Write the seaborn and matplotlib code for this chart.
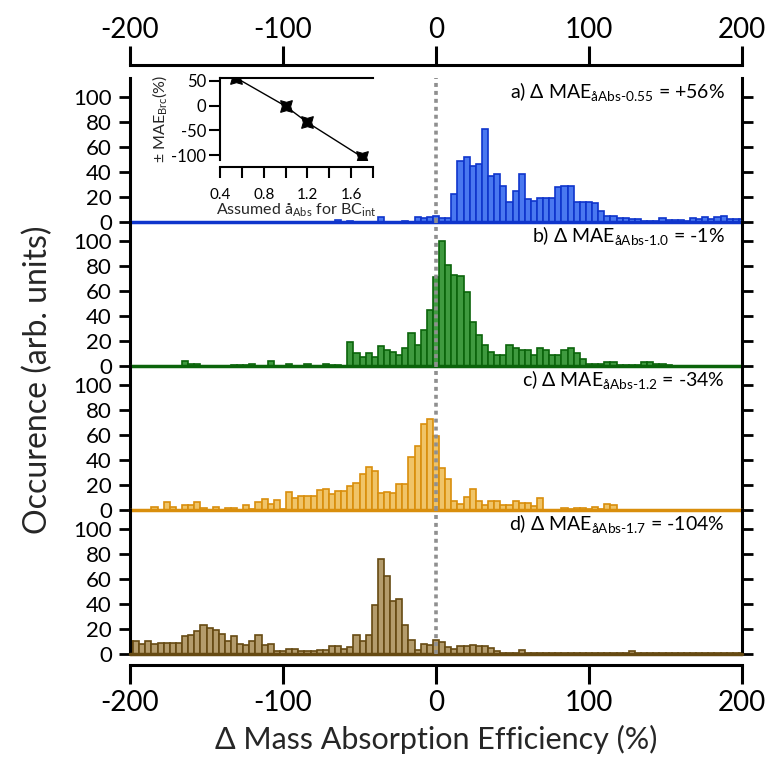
import numpy as np
import pandas as pd
import matplotlib
matplotlib.use("Agg")
import matplotlib.pyplot as plt
import seaborn as sns
from matplotlib.ticker import MultipleLocator

sns.set_theme(style="white")
plt.rcParams['font.family'] = ['Lato', 'DejaVu Sans']
plt.rcParams['mathtext.fontset'] = 'dejavusans'
plt.rcParams['axes.unicode_minus'] = False

# ---------------- data (4 %-wide bins centred on -200, -196, ..., 200) ----------------
bin_centers = np.arange(-200, 201, 4)

blue_neg = [0, 0, 0, 0, 0, 0, 0, 0, 0, 0,
            0, 0, 0, 0, 0, 0, 0, 0, 0, 0,
            0, 0, 0, 0, 0, 0, 0, 0, 0, 0,
            0, 0, 0, 0, 1.5, 0, 1, 0, 0, 0,
            0, 4, 0, 0, 0, 1, 0, 4, 3, 4]
blue_pos = [4.5, 3.5, 3, 22, 49, 52, 45, 46, 74, 37,
            38, 29, 16, 25, 38, 18, 17, 19, 19, 19,
            28, 29, 29, 16, 16, 16, 15, 8.5, 5, 5,
            3, 3, 2, 2, 1, 1, 1, 3.5, 1.5, 1.5,
            1.5, 1, 3, 2, 4, 2, 4, 5, 2, 2,
            2]

green_neg = [0, 0, 0, 0, 0, 0, 0, 0, 0, 4,
             2, 2, 0, 0, 0, 0, 0, 1, 1, 1,
             2, 0, 0, 4, 0, 0, 2, 0, 0, 2,
             0, 0, 2, 1, 1, 0, 19.5, 10, 7, 10,
             7.5, 16, 13, 11, 9, 14, 26, 16.5, 28.5, 44.5]
green_pos = [71, 100, 81, 72.5, 72, 59, 35, 25, 16.5, 11,
             9, 8.5, 17, 14.5, 12.5, 12.5, 9, 14, 13, 8.5,
             9, 12.5, 14, 10, 6, 2, 2, 2, 3, 3,
             1, 0.5, 0.5, 0.5, 3, 3, 2, 2, 1, 0,
             0, 0, 0, 0, 0, 0, 0, 0, 0, 0,
             0]

orange_neg = [0, 0, 0, 0, 2.4, 0, 6.7, 2.4, 0, 3.7,
              3.7, 6.7, 1.3, 0, 2.4, 0, 1.3, 1.3, 0, 3.7,
              1, 6.7, 8.5, 5, 7.7, 1, 14.7, 9.9, 11.5, 11.5,
              11.5, 15.7, 16.8, 13, 15.5, 15.5, 19.5, 21.6, 29, 34.5,
              31, 14, 14.7, 13.5, 20.5, 21, 42, 51, 69, 73]
orange_pos = [59, 33.6, 24.8, 7, 4.8, 10.7, 16.5, 7, 4.3, 7,
              7.5, 4.3, 4.3, 7, 5.3, 5.3, 3.5, 9.6, 0, 0,
              0, 1.9, 0.5, 1.3, 1.3, 0.5, 2.7, 1, 5, 4,
              0, 0, 0, 0, 0, 0, 0, 0, 0, 0,
              0, 0, 0, 0, 0, 0, 0, 0, 0, 0,
              0]

brown_neg = [10, 10, 8, 10, 8, 9, 9, 9, 9, 14,
             15.5, 18, 23.5, 21, 19.5, 16, 10.7, 14, 8, 7,
             10.7, 15, 7.5, 8, 2.7, 2.7, 4.3, 4.3, 2.7, 2.7,
             2, 3.5, 3.5, 6, 6, 4.3, 5.3, 15.5, 10, 15.5,
             39.5, 75.5, 62, 42.7, 44, 23.5, 11.5, 3.5, 8, 7]
brown_pos = [11.5, 9.6, 5.3, 4.3, 6, 6, 7, 6.5, 6, 5,
             2, 1, 1, 1, 3.5, 0.5, 0.5, 0.5, 0.5, 0.5,
             0.5, 0.5, 0.5, 0.5, 0.5, 0.5, 0.5, 0.5, 1, 1,
             0.5, 0.5, 2, 0.5, 0.5, 0.5, 0.5, 0.5, 0.5, 0.5,
             0.5, 0.5, 0.5, 0.5, 0.5, 0.5, 0.5, 0.5, 0.5, 0.5,
             0.5]

HY = "\u2010"
panel_labels = [r"a) Δ MAE$_{\mathregular{åAbs" + HY + r"0.55}}$ = +56%",
                r"b) Δ MAE$_{\mathregular{åAbs" + HY + r"1.0}}$ = -1%",
                r"c) Δ MAE$_{\mathregular{åAbs" + HY + r"1.2}}$ = -34%",
                r"d) Δ MAE$_{\mathregular{åAbs" + HY + r"1.7}}$ = -104%"]

xticks = [-200, -100, 0, 100, 200]
yticks = [0, 20, 40, 60, 80, 100]

inset_abs = [0.55, 1.0, 1.2, 1.7]
inset_dmae = [56, -1, -34, -104]

# ---------------- figure ----------------
fig = plt.figure(figsize=(7.73, 7.6), dpi=100)

L = 130 / 773
W = 612 / 773
H = 0.1895
bottoms = [0.7079, 0.5184, 0.3289, 0.1395]

series = [(blue_neg + blue_pos, '#4a78f0', '#0f35cc'),
          (green_neg + green_pos, '#3f9a3f', '#0b640b'),
          (orange_neg + orange_pos, '#f0c468', '#d98e0c'),
          (brown_neg + brown_pos, '#b49c6c', '#664a12')]

axes = []
for i, ((counts, fill, edge), b) in enumerate(zip(series, bottoms)):
    ax = fig.add_axes([L, b, W, H])
    ax.set_facecolor('none')
    df = pd.DataFrame({'x': bin_centers, 'w': counts})
    sns.histplot(data=df, x='x', weights='w', binwidth=4, binrange=(-202, 202), ax=ax,
                 color=fill, edgecolor=edge, linewidth=1.2, alpha=1, zorder=2)
    ax.axhline(0, color=edge, lw=2.5, zorder=3, clip_on=False)
    ax.axvline(0, color='#8f8f8f', lw=2.6, ls=(0, (1.1, 1.1)), zorder=4)
    ax.set_xlim(-200, 200)
    ax.set_ylim(0, 115)
    ax.set_xlabel('')
    ax.set_ylabel('')
    ax.set_yticks(yticks)
    ax.set_xticks(xticks)
    for s in ['left', 'right']:
        ax.spines[s].set_visible(True)
        ax.spines[s].set_color('black')
        ax.spines[s].set_linewidth(2.2)
    ax.spines['top'].set_visible(False)
    ax.spines['bottom'].set_visible(False)
    ax.tick_params(axis='y', which='both', left=True, right=True, labelleft=True,
                   labelright=False, direction='out', length=8, width=2.0,
                   labelsize=16, pad=5, colors='black')
    ax.tick_params(axis='x', bottom=False, top=False, labelbottom=False, labeltop=False)
    ax.text(0.972, 0.9, panel_labels[i], transform=ax.transAxes, ha='right', va='center',
            fontsize=14, color='black')
    ax.grid(False)
    axes.append(ax)

# top axis on panel a
axa = axes[0]
axa.spines['top'].set_visible(True)
axa.spines['top'].set_linewidth(2.2)
axa.spines['top'].set_color('black')
axa.spines['top'].set_position(('outward', 9.5))
axa.tick_params(axis='x', top=True, labeltop=True, bottom=False, labelbottom=False,
                direction='out', length=14, width=2.2, labelsize=20, pad=2, colors='black')

# bottom axis on panel d
axd = axes[3]
axd.spines['bottom'].set_visible(True)
axd.spines['bottom'].set_linewidth(2.2)
axd.spines['bottom'].set_color('black')
axd.spines['bottom'].set_position(('outward', 8))
axd.tick_params(axis='x', bottom=True, labelbottom=True, top=False, labeltop=False,
                direction='out', length=14, width=2.2, labelsize=20, pad=4, colors='black')
axd.set_xlabel('Δ Mass Absorption Efficiency (%)', fontsize=22, labelpad=6)

fig.text(38 / 773, 1 - 380 / 760, 'Occurence (arb. units)', rotation=90,
         ha='center', va='center', fontsize=23)

# ---------------- inset ----------------
axi = fig.add_axes([220 / 773, 1 - 160 / 760, 153 / 773, 82 / 760])
axi.set_facecolor('none')
sns.lineplot(x=inset_abs, y=inset_dmae, ax=axi, color='black', lw=1.0,
             marker=(4, 1, 45), markersize=12, markerfacecolor='black',
             markeredgecolor='black')
axi.set_xlim(0.4, 1.8)
axi.set_ylim(-110, 56)
axi.set_yticks([-100, -50, 0, 50])
axi.xaxis.set_major_locator(MultipleLocator(0.4))
axi.xaxis.set_minor_locator(MultipleLocator(0.2))
axi.set_xticks([0.4, 0.8, 1.2, 1.6])
for s in ['left', 'top', 'bottom']:
    axi.spines[s].set_visible(True)
    axi.spines[s].set_color('black')
    axi.spines[s].set_linewidth(1.5)
axi.spines['right'].set_visible(False)
axi.spines['bottom'].set_position(('outward', 5))
axi.tick_params(axis='both', which='both', direction='out', length=8, width=1.5,
                labelsize=12, colors='black', top=False, right=False,
                bottom=True, left=True)
axi.tick_params(axis='x', which='both', labelsize=11, pad=7)
axi.tick_params(axis='y', which='both', pad=2)
axi.set_xlabel(r"Assumed å$_{\mathregular{Abs}}$ for BC$_{\mathregular{int}}$",
               fontsize=11.5, labelpad=0)
axi.set_ylabel(r"± MAE$_{\mathregular{Brc}}$(%)", fontsize=11.5, labelpad=1)
axi.grid(False)

fig.savefig('out.png', dpi=100)
